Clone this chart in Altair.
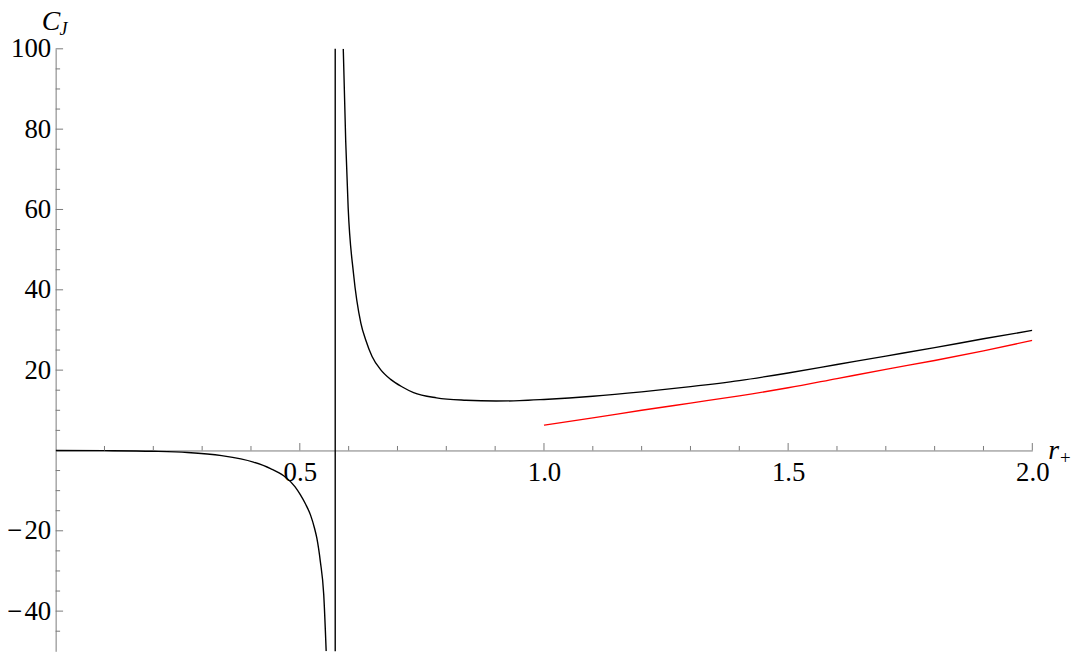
import altair as alt
import pandas as pd

# ---- data ----
black_left_r = [0.0, 0.1, 0.2, 0.27, 0.34, 0.405, 0.44, 0.467, 0.49, 0.501, 0.512, 0.522, 0.53, 0.535, 0.542, 0.549, 0.554]
black_left_c = [0.0, -0.05, -0.2, -0.5, -1.3, -2.9, -4.5, -6.3, -9.0, -11.0, -13.4, -16.1, -19.3, -21.9, -27.6, -35.9, -50.0]

black_right_r = [0.589, 0.594, 0.599, 0.61, 0.625, 0.635, 0.648, 0.665, 0.686, 0.71, 0.733, 0.78, 0.84, 0.902,
                 0.95, 1.0, 1.1, 1.2, 1.3, 1.4, 1.5, 1.6, 1.7, 1.8, 1.9, 2.0]
black_right_c = [100.0, 77.0, 60.5, 44.0, 31.7, 27.5, 23.4, 20.2, 17.7, 15.8, 14.4, 13.1, 12.5, 12.3,
                 12.4, 12.7, 13.5, 14.6, 15.9, 17.4, 19.3, 21.4, 23.5, 25.6, 27.8, 29.9]

red_r = [1.0, 1.1, 1.2, 1.3, 1.4, 1.5, 1.6, 1.7, 1.8, 1.9, 2.0]
red_c = [6.3, 8.1, 10.0, 11.8, 13.6, 15.6, 17.9, 20.2, 22.4, 24.8, 27.4]

asymptote_r = [0.5725]

x_domain = [0, 2]
y_domain = [-50, 100]
x_label_values = [0.5, 1.0, 1.5, 2.0]
y_label_values = [-40, -20, 20, 40, 60, 80, 100]
x_major_ticks = [0.5, 1.0, 1.5, 2.0]
x_minor_ticks = [0.1, 0.2, 0.3, 0.4, 0.6, 0.7, 0.8, 0.9, 1.1, 1.2, 1.3, 1.4, 1.6, 1.7, 1.8, 1.9]
y_major_ticks = [-40, -20, 20, 40, 60, 80, 100]
y_minor_ticks = [-45, -35, -30, -25, -15, -10, -5, 5, 10, 15, 25, 30, 35, 45, 50, 55, 65, 70, 75, 85, 90, 95]

# ---- layout ----
W, H = 984, 607
FONT = "Liberation Serif"
AXIS_GRAY = "#7a7a7a"

xs = alt.Scale(domain=x_domain, nice=False, zero=False)
ys = alt.Scale(domain=y_domain, nice=False, zero=False)

x_axis = alt.Axis(orient="bottom", offset=-H / 3, domain=True, domainColor=AXIS_GRAY, domainWidth=1,
                  ticks=False, grid=False, values=x_label_values, format=".1f",
                  labelFont=FONT, labelFontSize=27, labelColor="black", labelPadding=9,
                  labelFlush=False, labelOverlap=False, title="")
y_axis = alt.Axis(orient="left", domain=True, domainColor=AXIS_GRAY, domainWidth=1,
                  ticks=False, grid=False, values=y_label_values,
                  labelExpr="datum.value < 0 ? '\u2212\u200a' + abs(datum.value) : '' + datum.value",
                  labelFont=FONT, labelFontSize=27, labelColor="black", labelPadding=5,
                  labelBaseline="middle", labelFlush=False, labelOverlap=False, title="")

df_left = pd.DataFrame({"r": black_left_r, "c": black_left_c})
df_right = pd.DataFrame({"r": black_right_r, "c": black_right_c})
df_red = pd.DataFrame({"r": red_r, "c": red_c})
df_asym = pd.DataFrame({"r": asymptote_r})


def curve(df, color):
    return alt.Chart(df).mark_line(color=color, strokeWidth=1.4, interpolate="monotone", clip=True).encode(
        x=alt.X("r:Q", scale=xs, axis=x_axis),
        y=alt.Y("c:Q", scale=ys, axis=y_axis),
    )


asym = alt.Chart(df_asym).mark_rule(color="black", strokeWidth=1.4).encode(
    x=alt.X("r:Q", scale=xs, axis=x_axis),
    y=alt.YDatum(y_domain[0], scale=ys, axis=y_axis),
    y2=alt.Y2Datum(y_domain[1]),
)


def xticks(vals, length):
    return alt.Chart(pd.DataFrame({"v": vals})).mark_rule(color=AXIS_GRAY, strokeWidth=1, y2Offset=-length).encode(
        x=alt.X("v:Q", scale=xs, axis=x_axis),
        y=alt.YDatum(0, scale=ys, axis=y_axis),
        y2=alt.Y2Datum(0),
    )


def yticks(vals, length):
    return alt.Chart(pd.DataFrame({"v": vals})).mark_rule(color=AXIS_GRAY, strokeWidth=1, x2Offset=length).encode(
        y=alt.Y("v:Q", scale=ys, axis=y_axis),
        x=alt.XDatum(0, scale=xs, axis=x_axis),
        x2=alt.X2Datum(0),
    )


one = pd.DataFrame({"a": [0]})


def label(txt, px, py, size, style="italic"):
    return alt.Chart(one).mark_text(text=txt, font=FONT, fontSize=size, fontStyle=style, color="black",
                                    align="left", baseline="alphabetic").encode(
        x=alt.value(px), y=alt.value(py))


chart = alt.layer(
    curve(df_left, "black"), curve(df_right, "black"), curve(df_red, "#ff0000"), asym,
    xticks(x_major_ticks, 7.5), xticks(x_minor_ticks, 4.5),
    yticks(y_major_ticks, 7.5), yticks(y_minor_ticks, 4.5),
    label("C", -14, -18.7, 28), label("J", 4, -14.0, 18),
    label("r", 1000, 413.5, 28), label("+", 1012, 418.5, 19, "normal"),
).properties(
    width=W, height=H,
    padding={"left": 48, "top": 38.7, "right": 41, "bottom": 0},
    autosize=alt.AutoSizeParams(type="none"),
).configure(
    font=FONT
).configure_axis(
    labelFont=FONT, labelFontSize=27, labelColor="black"
).configure_view(stroke="transparent")

chart.save("out.html", embed_options={"renderer": "svg", "actions": False})
